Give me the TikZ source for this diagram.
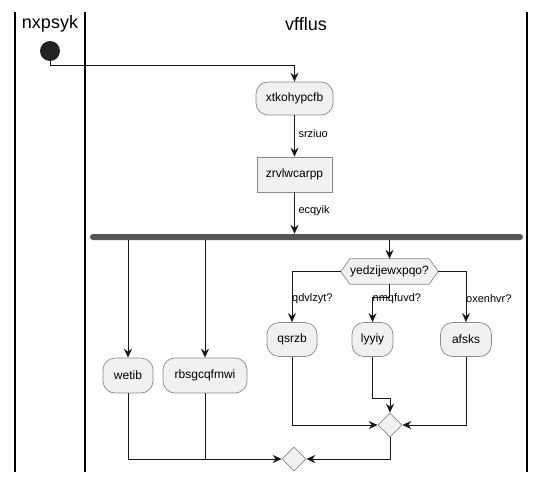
\documentclass[tikz,border=0pt]{standalone}
\usepackage{fontspec}
\setmainfont{Liberation Sans}
\usetikzlibrary{arrows.meta,shapes.geometric,calc}
\definecolor{lineC}{HTML}{181818}
\definecolor{borderC}{HTML}{8A8A8A}
\definecolor{boxF}{HTML}{F1F1F1}
\definecolor{barC}{HTML}{555555}
\definecolor{startC}{HTML}{222222}
\begin{document}
\begin{tikzpicture}[x=1pt,y=-1pt,
  act/.style={draw=borderC,line width=0.7pt,fill=boxF,rounded corners=12pt,inner sep=0pt,
    font=\fontsize{12}{14}\selectfont,text=black},
  sq/.style={draw=borderC,line width=0.7pt,fill=boxF,inner sep=0pt,
    font=\fontsize{12}{14}\selectfont,text=black},
  merge/.style={diamond,draw=borderC,line width=0.7pt,fill=boxF,inner sep=0pt,minimum width=24pt,minimum height=24pt},
  conn/.style={draw=lineC,line width=1pt},
  arr/.style={conn,-{Stealth[length=9pt,width=8pt,inset=3pt]}},
  lbl/.style={font=\fontsize{11}{13}\selectfont,inner sep=0pt,anchor=west},
  lane/.style={draw=black,line width=1.4pt},
  title/.style={font=\fontsize{18}{21}\selectfont,inner sep=0pt}
]
\useasboundingbox (0,0) rectangle (546,482);
% swimlanes
\draw[lane] (15,12) -- (15,472);
\draw[lane] (85,12) -- (85,472);
\draw[lane] (527,12) -- (527,472);
\node[title] (t1) at (50,24) {nxpsyk};
\node[title] (t2) at (306,24) {vfflus};
% nodes
\node[circle,fill=startC,minimum size=20pt,inner sep=0pt] (start) at (50,51) {};
\node[act,minimum width=77pt,minimum height=33pt] (xt) at (294.5,98.5) {xtkohypcfb};
\node[sq,minimum width=75pt,minimum height=35pt] (zr) at (294.5,174.5) {zrvlwcarpp};
\node[fill=barC,rounded corners=3pt,minimum width=433pt,minimum height=6pt,inner sep=0pt] (bar) at (306.5,237) {};
\node[act,minimum width=50pt,minimum height=35pt] (wetib) at (128,375.5) {wetib};
\node[act,minimum width=84pt,minimum height=35pt] (rbs) at (205,375.5) {rbsgcqfmwi};
\node[minimum width=97pt,minimum height=25pt,inner sep=0pt] (hex) at (389.5,271.5) {};
\draw[draw=borderC,line width=0.7pt,fill=boxF] (hex.west) -- ($(hex.north west)+(9,0)$) -- ($(hex.north east)+(-9,0)$) -- (hex.east) -- ($(hex.south east)+(-9,0)$) -- ($(hex.south west)+(9,0)$) -- cycle;
\node[font=\fontsize{12}{14}\selectfont,inner sep=0pt] (hext) at (hex.center) {yedzijewxpqo?};
\node[act,minimum width=50pt,minimum height=34pt] (qsrzb) at (292,339.5) {qsrzb};
\node[act,minimum width=41pt,minimum height=34pt] (lyyiy) at (372.5,339.5) {lyyiy};
\node[act,minimum width=51pt,minimum height=34pt] (afsks) at (466,339.5) {afsks};
\node[merge] (m1) at (390,425) {};
\node[merge] (m2) at (294,459) {};
% helper coordinates
\coordinate (c1) at (294.5,65);
\coordinate (c2) at (389.5,297);
\coordinate (c3) at (372.5,398);
% connectors
\draw[arr] (start.south) |- (c1) -- (xt.north);
\draw[arr] (xt.south) -- node[lbl,pos=0.45,xshift=3.5pt] (l1) {srziuo} (zr.north);
\draw[arr] (zr.south) -- node[lbl,pos=0.45,xshift=3.5pt] (l2) {ecqyik} (zr.south |- bar.north);
\draw[arr] (wetib |- bar.south) -- (wetib.north);
\draw[arr] (rbs |- bar.south) -- (rbs.north);
\draw[arr] (hex |- bar.south) -- (hex.north);
\draw[arr] (hex.west) -| (qsrzb.north);
\node[lbl] (l3) at (292,299) {qdvlzyt?};
\draw[arr] (hex.south) -- (c2) -| (lyyiy.north);
\node[lbl] (l4) at (372.5,299) {nmqfuvd?};
\draw[arr] (hex.east) -| (afsks.north);
\node[lbl] (l5) at (466,299) {oxenhvr?};
\draw[arr] (qsrzb.south) |- (m1.west);
\draw[arr] (afsks.south) |- (m1.east);
\draw[arr] (lyyiy.south) -- (c3) -| (m1.north);
\draw[arr] (wetib.south) |- (m2.west);
\draw[conn] (rbs.south) -- (rbs |- m2.west);
\draw[arr] (m1.south) |- (m2.east);
\end{tikzpicture}
\end{document}
